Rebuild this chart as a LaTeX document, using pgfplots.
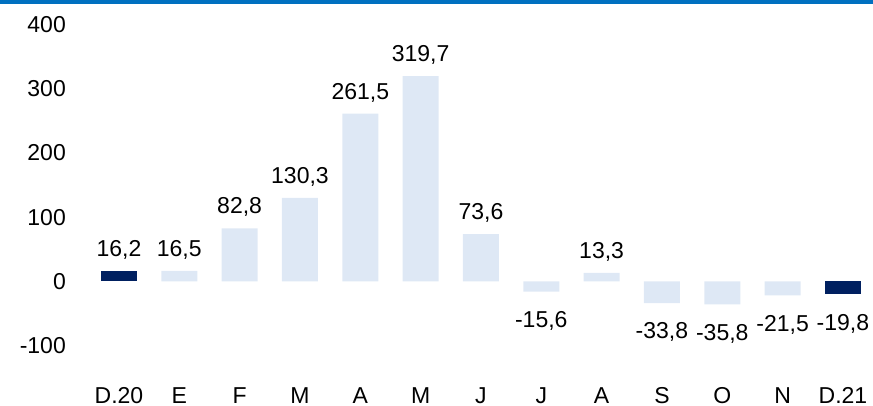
\documentclass[border=0pt]{standalone}
\usepackage{pgfplots}
\pgfplotsset{compat=1.18}
\usepackage{fontspec}
\setmainfont{Liberation Sans}
\definecolor{band}{HTML}{0070C0}
\definecolor{darkbar}{HTML}{002060}
\definecolor{lightbar}{HTML}{DEE8F5}
\begin{document}
\begin{tikzpicture}
\path[use as bounding box] (0,0) rectangle (873pt,-406pt);
\fill[band] (0,0) rectangle (873pt,-3.7pt);
\begin{axis}[
  at={(88.8pt,-377.8pt)}, anchor=south west,
  scale only axis, width=784.3pt, height=372.4pt,
  xmin=-0.5, xmax=12.5, ymin=-150, ymax=430,
  ybar, bar width=36pt,
  clip=false,
  axis line style={draw=none}, major tick length=0pt,
  font=\fontsize{23}{27}\selectfont,
  /pgf/number format/assume math mode=true,
  xtick={0,...,12},
  xticklabels={D.20,E,F,M,A,M,J,J,A,S,O,N,D.21},
  xticklabel style={anchor=base, inner sep=0pt, yshift=-25.2pt},
  ytick={-100,0,100,200,300,400},
  yticklabel style={anchor=east, inner sep=0pt, xshift=-22.8pt},
  nodes near coords,
  nodes near coords style={/pgf/number format/use comma, /pgf/number format/fixed, /pgf/number format/fixed zerofill, /pgf/number format/precision=1, /pgf/number format/assume math mode=true},
  pos/.style={every node near coord/.append style={anchor=base, inner sep=0pt, yshift=14.5pt, text=black}},
  neg/.style={every node near coord/.append style={anchor=base, inner sep=0pt, yshift=-35.8pt, text=black}},
]
\addplot[fill=lightbar, draw=none, bar shift=0pt, pos] coordinates {(1,16.5) (2,82.8) (3,130.3) (4,261.5) (5,319.7) (6,73.6) (8,13.3)};
\addplot[fill=lightbar, draw=none, bar shift=0pt, neg] coordinates {(7,-15.6) (9,-33.8) (10,-35.8) (11,-21.5)};
\addplot[fill=darkbar, draw=none, bar shift=0pt, pos] coordinates {(0,16.2)};
\addplot[fill=darkbar, draw=none, bar shift=0pt, neg] coordinates {(12,-19.8)};
\end{axis}
\end{tikzpicture}
\end{document}
